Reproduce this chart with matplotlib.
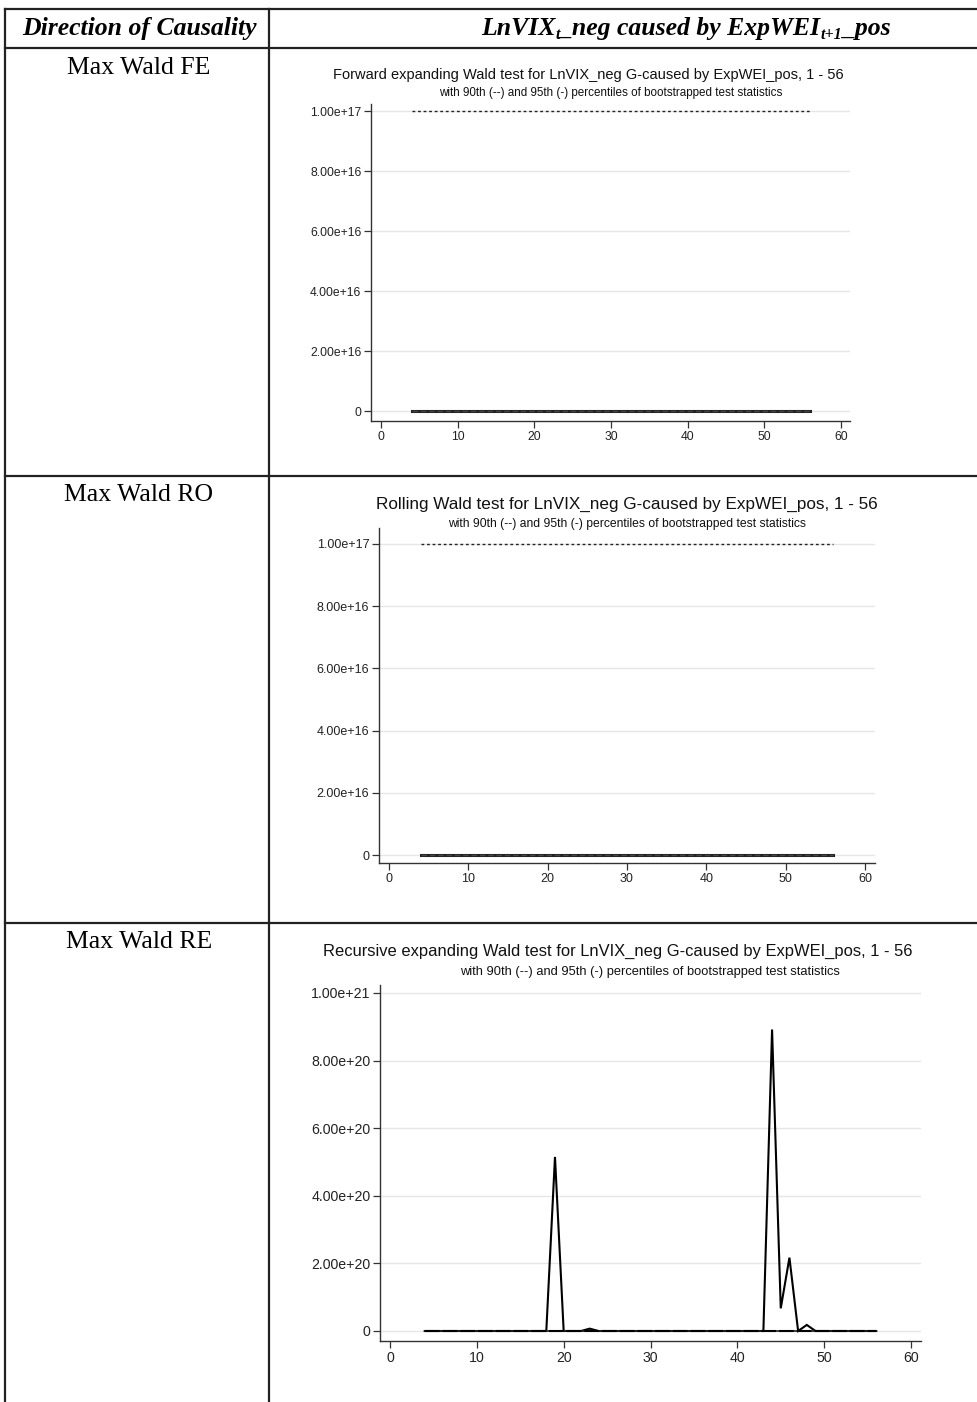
import matplotlib
matplotlib.use("Agg")
import matplotlib.pyplot as plt
from matplotlib.lines import Line2D

# ---------------- data ----------------
periods = list(range(4, 57))

fe_stat = [0.0] * 53
fe_p90 = [1e17] * 53
fe_p95 = [0.0] * 53

ro_stat = [0.0] * 53
ro_p90 = [1e17] * 53
ro_p95 = [0.0] * 53

# recursive evolving statistic, in units of 1e20
re_stat_e20 = [0, 0, 0, 0, 0, 0, 0, 0, 0, 0, 0, 0, 0, 0,   # 4-17
               0, 5.15, 0, 0, 0, 0.07, 0,                  # 18-24
               0, 0, 0, 0, 0, 0, 0, 0, 0, 0, 0, 0, 0, 0, 0, 0, 0, 0,  # 25-42
               0, 8.92, 0.67, 2.17, 0, 0.18, 0,            # 43-49
               0, 0, 0, 0, 0, 0, 0]                        # 50-56
re_p90_e20 = [0.001] * 53
re_p95_e20 = [0.001] * 53

fe_yticks = [0, 2e16, 4e16, 6e16, 8e16, 1e17]
fe_ylabels = ["0", "2.00e+16", "4.00e+16", "6.00e+16", "8.00e+16", "1.00e+17"]
re_yticks = [0, 2e20, 4e20, 6e20, 8e20, 1e21]
re_ylabels = ["0", "2.00e+20", "4.00e+20", "6.00e+20", "8.00e+20", "1.00e+21"]
xticks = [0, 10, 20, 30, 40, 50, 60]

row_labels = ["Max Wald FE", "Max Wald RO", "Max Wald RE"]
titles = ["Forward expanding Wald test for LnVIX_neg G-caused by ExpWEI_pos, 1 - 56",
          "Rolling Wald test for LnVIX_neg G-caused by ExpWEI_pos, 1 - 56",
          "Recursive expanding Wald test for LnVIX_neg G-caused by ExpWEI_pos, 1 - 56"]
subtitle = "with 90th (--) and 95th (-) percentiles of bootstrapped test statistics"

# ---------------- figure ----------------
W, H = 977, 1402
fig = plt.figure(figsize=(W / 100, H / 100), dpi=100)
fig.patch.set_facecolor("white")

SERIF = ["Liberation Serif", "DejaVu Serif"]
SANS = ["Liberation Sans", "DejaVu Sans"]

def fx(x):
    return x / W

def fy(y):
    return 1 - y / H

# table lines
tbl = fig.add_axes([0, 0, 1, 1])
tbl.set_xlim(0, W)
tbl.set_ylim(H, 0)
tbl.axis("off")
lc = "#222222"
for y in [9, 48, 476, 923]:
    tbl.add_line(Line2D([5, W], [y, y], color=lc, lw=1.6))
tbl.add_line(Line2D([5, 5], [9, H], color=lc, lw=1.6))
tbl.add_line(Line2D([269, 269], [9, H], color=lc, lw=1.6))

# header left
fig.text(fx(139), fy(35), "Direction of Causality", family=SERIF, weight="bold",
         style="italic", fontsize=18.5, ha="center", va="baseline")

# header right with subscripts
renderer = fig.canvas.get_renderer()
pieces = [("LnVIX", 18.5, 0), ("t", 11.5, -4), ("_neg caused by ExpWEI", 18.5, 0),
          ("t+1", 11.5, -4), ("_pos", 18.5, 0)]
objs = []
total = 0
for s, size, dy in pieces:
    t = fig.text(0, 0, s, family=SERIF, weight="bold", style="italic",
                 fontsize=size, ha="left", va="baseline")
    w = t.get_window_extent(renderer).width
    objs.append((t, w, dy))
    total += w
xc = 686 - total / 2
base = 35
for t, w, dy in objs:
    t.set_position((fx(xc), fy(base - dy)))
    xc += w

# row labels
for lab, y in zip(row_labels, [74, 501, 948]):
    fig.text(fx(139), fy(y), lab, family=SERIF, fontsize=18.5, ha="center", va="baseline")

# ---------------- panels ----------------
panels = [
    dict(box=(371, 104, 850, 421), x0=381, x60=841, y0=411, ytop=111, ytopv=1e17,
         stat=fe_stat, p90=fe_p90, p95=fe_p95, scale=1.0,
         yt=fe_yticks, yl=fe_ylabels, tfs=8.7,
         title=(588, 75, 10.5), sub=(611, 93, 8.4)),
    dict(box=(379, 528, 875, 863), x0=389, x60=865, y0=855, ytop=544, ytopv=1e17,
         stat=ro_stat, p90=ro_p90, p95=ro_p95, scale=1.0,
         yt=fe_yticks, yl=fe_ylabels, tfs=9.0,
         title=(627, 504, 12.3), sub=(627, 524, 8.7)),
    dict(box=(380, 985, 921, 1341), x0=390, x60=911, y0=1331, ytop=993, ytopv=1e21,
         stat=re_stat_e20, p90=re_p90_e20, p95=re_p95_e20, scale=1e20,
         yt=re_yticks, yl=re_ylabels, tfs=10.2,
         title=(618, 951, 11.9), sub=(650, 972, 9.3)),
]

for i, p in enumerate(panels):
    l, t, r, b = p["box"]
    ax = fig.add_axes([fx(l), fy(b), fx(r - l), (b - t) / H])
    ppx = (p["x60"] - p["x0"]) / 60.0
    ax.set_xlim((l - p["x0"]) / ppx, (r - p["x0"]) / ppx)
    ppy = (p["y0"] - p["ytop"]) / p["ytopv"]
    ax.set_ylim(-(b - p["y0"]) / ppy, (p["y0"] - t) / ppy)
    sc = p["scale"]
    stat = [v * sc for v in p["stat"]]
    p90 = [v * sc for v in p["p90"]]
    p95 = [v * sc for v in p["p95"]]
    for yv in p["yt"]:
        ax.axhline(yv, color="#e6e6e6", lw=1.0, zorder=0)
    if i < 2:
        ax.plot(periods, stat, color="#222222", lw=2.2, zorder=3)
        ax.plot(periods, p95, color="#444444", lw=1.0, dashes=(4, 2), zorder=4)
        ax.plot(periods, p90, color="#222222", lw=1.0, dashes=(2, 2), zorder=4)
    else:
        ax.plot(periods, stat, color="black", lw=1.5, zorder=3, solid_joinstyle="miter")
        ax.plot(periods, p95, color="#222222", lw=1.2, zorder=4)
        ax.plot(periods, p90, color="black", lw=1.5, dashes=(7, 1.5), zorder=4)
    ax.set_yticks(p["yt"])
    ax.set_yticklabels(p["yl"])
    ax.set_xticks(xticks)
    for sp in ["top", "right"]:
        ax.spines[sp].set_visible(False)
    for sp in ["left", "bottom"]:
        ax.spines[sp].set_color("#333333")
        ax.spines[sp].set_linewidth(1.0)
    ax.tick_params(axis="both", length=5, width=0.9, color="#333333",
                   labelsize=p["tfs"], labelcolor="#222222", pad=2)
    for lbl in ax.get_xticklabels() + ax.get_yticklabels():
        lbl.set_family(SANS)
    ax.set_facecolor("none")
    tx, ty, ts = p["title"]
    fig.text(fx(tx), fy(ty), titles[i], family=SANS,
             fontsize=ts, ha="center", va="center", color="#111111")
    sx, sy, ss = p["sub"]
    fig.text(fx(sx), fy(sy), subtitle, family=SANS, fontsize=ss,
             ha="center", va="center", color="#111111")

fig.savefig("out.png", dpi=100, facecolor="white")
